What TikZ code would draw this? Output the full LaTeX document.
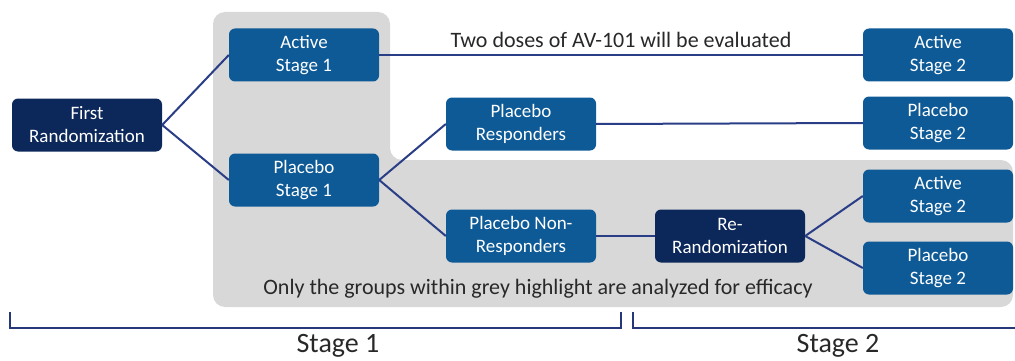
\documentclass[tikz,border=0pt]{standalone}
\usepackage{fontspec}
\setmainfont{Carlito}
\definecolor{boxblue}{RGB}{14,90,150}
\definecolor{darknavy}{RGB}{12,40,90}
\definecolor{linkblue}{RGB}{42,62,135}
\definecolor{highgrey}{RGB}{216,216,216}
\definecolor{textgrey}{RGB}{40,40,40}

\begin{document}
\begin{tikzpicture}[x=1pt,y=-1pt,
  arm/.style={draw=none,fill=boxblue,text=white,rounded corners=6pt,
    minimum width=150pt,minimum height=53pt,inner sep=1pt,align=center,
    font=\fontsize{19}{23}\selectfont},
  randbox/.style={arm,fill=darknavy},
  link/.style={linkblue,line width=2pt},
  brace/.style={linkblue!90!black,line width=2pt}]
 \useasboundingbox (0,0) rectangle (1015,361);

 \fill[highgrey,rounded corners=12pt] (213,12) -- (390,12) -- (390,160) -- (1013,160)
   -- (1013,307) -- (213,307) -- cycle;

 \node [randbox] (first)at (87,125){First\\Randomization};
 \node [arm] (act1)at (304,55){Active\\Stage 1};
 \node [arm] (pla1)at (304,180){Placebo\\Stage 1};
 \node [arm] (resp)at (521,124){Placebo\\Responders};
 \node [arm] (nonresp)at (521,236){Placebo Non-\\Responders};
 \node [randbox] (rerand)at (730,236){Re-\\Randomization};
 \node [arm] (act2a)at (938,55){Active\\Stage 2};
 \node [arm] (pla2a)at (938,123){Placebo\\Stage 2};
 \node [arm] (act2b)at (938,196){Active\\Stage 2};
 \node [arm] (pla2b)at (938,268){Placebo\\Stage 2};

 \draw[link] (first.east) -- (act1.west);
 \draw[link] (first.east) -- (pla1.west);
 \draw[link] (pla1.east) -- (resp.west);
 \draw[link] (pla1.east) -- (nonresp.west);
 \draw[link] (act1.east) -- (act2a.west);
 \draw[link] (resp.east) -- (pla2a.west);
 \draw[link] (nonresp.east) -- (rerand.west);
 \draw[link] (rerand.east) -- (act2b.west);
 \draw[link] (rerand.east) -- (pla2b.west);

 \node [text=textgrey,font=\fontsize{22}{26}\selectfont] (dose)at (621,40){Two doses of AV-101 will be evaluated};
 \node [text=textgrey,font=\fontsize{22}{26}\selectfont] (grey)at (538,289){Only the groups within grey highlight are analyzed for efficacy};

 \draw[brace] (10,312) -- (10,328) -- (621,328) -- (621,312);
 \draw[brace] (633,312) -- (633,328) -- (1015,328);
 \node [text=textgrey,font=\fontsize{28}{30}\selectfont,inner sep=0pt] (st1)at (338,346){Stage 1};
 \node [text=textgrey,font=\fontsize{28}{30}\selectfont,inner sep=0pt] (st2)at (838,346){Stage 2};
\end{tikzpicture}
\end{document}
